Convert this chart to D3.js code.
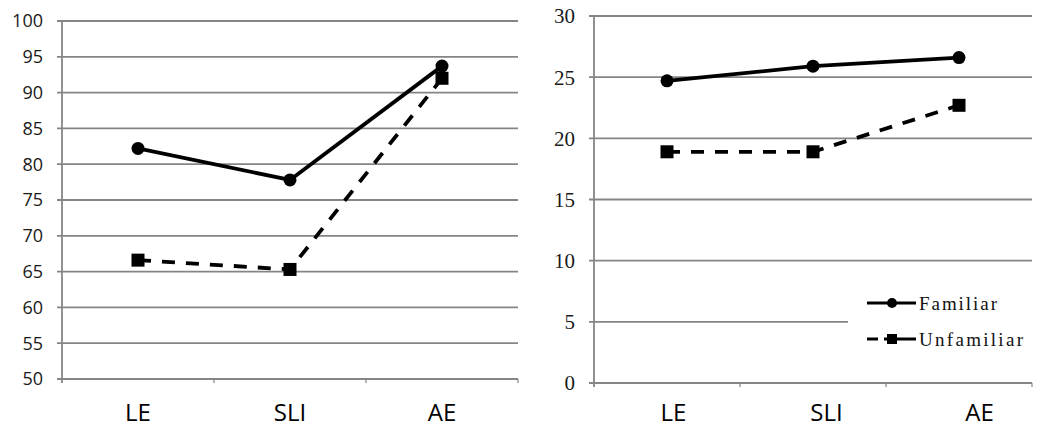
<!DOCTYPE html>
<html>
<head>
<meta charset="utf-8">
<script src="https://cdn.jsdelivr.net/npm/d3@7"></script>
<style>
  html, body { margin: 0; padding: 0; background: #fff; }
  svg { display: block; }
  .serif { font-family: 'Liberation Serif', 'Times New Roman', 'DejaVu Serif', serif; }
  .sans  { font-family: 'Open Sans', 'Liberation Sans', sans-serif; }
</style>
</head>
<body>
<div id="chart"></div>
<script>
// ── Data ────────────────────────────────────────────────────
const categories      = ['LE', 'SLI', 'AE'];
const leftFamiliar    = [82.2, 77.8, 93.7];
const leftUnfamiliar  = [66.6, 65.3, 92.0];
const rightFamiliar   = [24.7, 25.9, 26.6];
const rightUnfamiliar = [18.9, 18.9, 22.7];
const leftTicks  = [50, 55, 60, 65, 70, 75, 80, 85, 90, 95, 100];
const rightTicks = [0, 5, 10, 15, 20, 25, 30];
const seriesNames = ['Familiar', 'Unfamiliar'];

const width = 1050, height = 433;
const gridColor = '#858585';

const svg = d3.select('#chart')
  .append('svg')
  .attr('width', width)
  .attr('height', height);

// ── One panel ───────────────────────────────────────────────
function drawPanel(opts) {
  const { x0, x1, yTop, yBottom, domain, ticks, fam, unfam, tickClass, tickSize, labelRange } = opts;

  const x = d3.scaleBand().domain(categories).range([x0, x1]);
  const y = d3.scaleLinear().domain(domain).range([yBottom, yTop]);
  const xl = d3.scaleBand().domain(categories).range(labelRange || [x0, x1]);

  const g = svg.append('g');

  // gridlines
  g.selectAll('line.grid')
    .data(ticks)
    .join('line')
    .attr('class', 'grid')
    .attr('x1', x0 - 5).attr('x2', x1)
    .attr('y1', d => y(d)).attr('y2', d => y(d))
    .attr('stroke', gridColor)
    .attr('stroke-width', 1.8);

  // y axis line
  g.append('line')
    .attr('x1', x0).attr('x2', x0)
    .attr('y1', y(domain[1])).attr('y2', yBottom + 4)
    .attr('stroke', gridColor)
    .attr('stroke-width', 1.8);

  // category tick marks on bottom axis
  g.selectAll('line.ctick')
    .data(categories)
    .join('line')
    .attr('class', 'ctick')
    .attr('x1', d => x(d) + x.bandwidth()).attr('x2', d => x(d) + x.bandwidth())
    .attr('y1', yBottom).attr('y2', yBottom + 4)
    .attr('stroke', gridColor)
    .attr('stroke-width', 1.2);

  // y tick labels
  g.selectAll('text.ylab')
    .data(ticks)
    .join('text')
    .attr('class', 'ylab ' + tickClass)
    .attr('x', x0 - 19)
    .attr('y', d => y(d))
    .attr('dy', '0.35em')
    .attr('text-anchor', 'end')
    .attr('font-size', tickSize)
    .attr('fill', '#1a1a1a')
    .text(d => d);

  // category labels
  g.selectAll('text.xlab')
    .data(categories)
    .join('text')
    .attr('class', 'xlab sans')
    .attr('x', d => xl(d) + xl.bandwidth() / 2)
    .attr('y', 421)
    .attr('text-anchor', 'middle')
    .attr('font-size', 24)
    .attr('fill', '#000')
    .text(d => d);

  const cx = (d, i) => x(categories[i]) + x.bandwidth() / 2;
  const line = d3.line().x(cx).y(d => y(d));

  // Familiar: solid with circles
  g.append('path')
    .datum(fam)
    .attr('fill', 'none')
    .attr('stroke', '#000')
    .attr('stroke-width', 3.8)
    .attr('d', line);

  // Unfamiliar: dashed with squares
  g.append('path')
    .datum(unfam)
    .attr('fill', 'none')
    .attr('stroke', '#000')
    .attr('stroke-width', 3.8)
    .attr('stroke-dasharray', '13,11')
    .attr('d', line);

  g.selectAll('rect.sq')
    .data(unfam)
    .join('rect')
    .attr('class', 'sq')
    .attr('x', (d, i) => cx(d, i) - 6.5)
    .attr('y', d => y(d) - 6.5)
    .attr('width', 13).attr('height', 13)
    .attr('fill', '#000');

  g.selectAll('circle.dot')
    .data(fam)
    .join('circle')
    .attr('class', 'dot')
    .attr('cx', cx)
    .attr('cy', d => y(d))
    .attr('r', 6.5)
    .attr('fill', '#000');
}

drawPanel({
  x0: 62, x1: 518, yTop: 21, yBottom: 379,
  domain: [50, 100], ticks: leftTicks,
  fam: leftFamiliar, unfam: leftUnfamiliar,
  tickClass: 'sans', tickSize: 18
});

drawPanel({
  x0: 594, x1: 1032, yTop: 16, yBottom: 383,
  domain: [0, 30], ticks: rightTicks,
  fam: rightFamiliar, unfam: rightUnfamiliar,
  tickClass: 'serif', tickSize: 21,
  labelRange: [597, 1056]
});

// ── Legend ──────────────────────────────────────────────────
const legend = svg.append('g');

legend.append('rect')
  .attr('x', 848).attr('y', 272)
  .attr('width', 190).attr('height', 95)
  .attr('fill', '#fff');

const legRows = legend.selectAll('g.row')
  .data(seriesNames)
  .join('g')
  .attr('class', 'row')
  .attr('transform', (d, i) => `translate(867, ${303 + i * 36})`);

legRows.append('line')
  .attr('x1', 0).attr('x2', 49)
  .attr('y1', 0).attr('y2', 0)
  .attr('stroke', '#000')
  .attr('stroke-width', 3)
  .attr('stroke-dasharray', (d, i) => i === 1 ? '11,6,32' : null);

legRows.filter((d, i) => i === 0).append('circle')
  .attr('cx', 25).attr('cy', 0).attr('r', 5)
  .attr('fill', '#000');

legRows.filter((d, i) => i === 1).append('rect')
  .attr('x', 20).attr('y', -5)
  .attr('width', 10).attr('height', 10)
  .attr('fill', '#000');

legRows.append('text')
  .attr('class', 'serif')
  .attr('x', 52)
  .attr('y', 0)
  .attr('dy', '0.35em')
  .attr('font-size', 19)
  .attr('fill', '#111')
  .attr('textLength', (d, i) => i === 0 ? 78 : 104)
  .attr('lengthAdjust', 'spacing')
  .text(d => d);
</script>
</body>
</html>
